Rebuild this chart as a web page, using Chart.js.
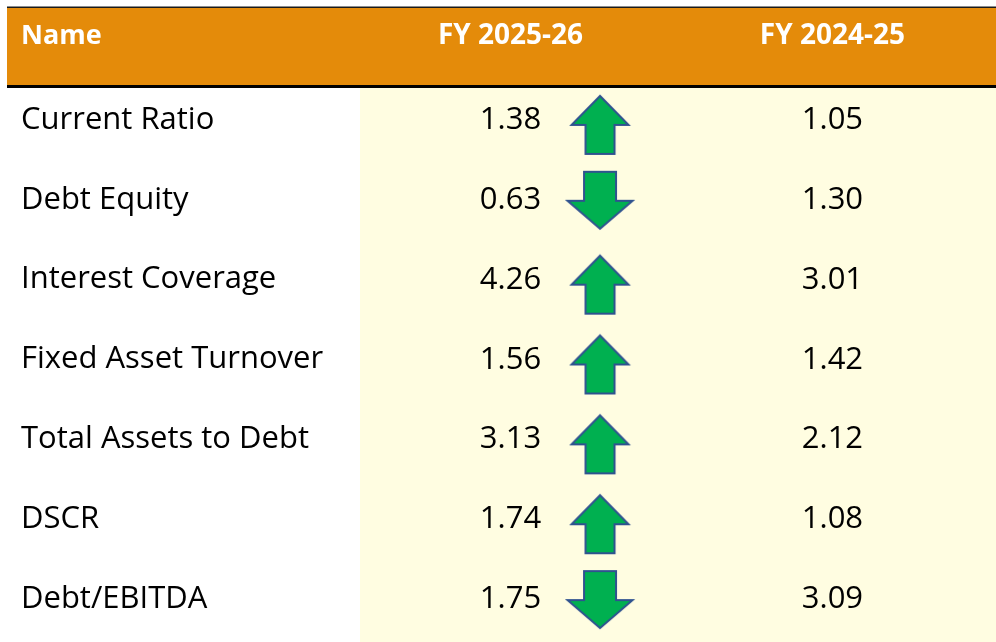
<!DOCTYPE html>
<html>
<head>
<meta charset="utf-8">
<title>Key Ratios</title>
<script src="https://cdn.jsdelivr.net/npm/chart.js@4.4.1/dist/chart.umd.min.js"></script>
<style>
  html, body { margin: 0; padding: 0; background: #fff; }
  #wrap { width: 996px; height: 642px; position: relative; }
</style>
</head>
<body>
<div id="wrap"><canvas id="ratioChart"></canvas></div>
<script>
// table data
const HEADERS = ['Name', 'FY 2025-26', 'FY 2024-25'];
const RATIO_NAMES = [
  'Current Ratio', 'Debt Equity', 'Interest Coverage', 'Fixed Asset Turnover',
  'Total Assets to Debt', 'DSCR', 'Debt/EBITDA'
];
const FY_2025_26 = ['1.38', '0.63', '4.26', '1.56', '3.13', '1.74', '1.75'];
const FY_2024_25 = ['1.05', '1.30', '3.01', '1.42', '2.12', '1.08', '3.09'];
const TREND = ['up', 'down', 'up', 'up', 'up', 'up', 'down'];

// column positions on the (hidden) x scale, 0..100 across the yellow area
const COL_CURRENT = 23.7;
const COL_ARROW = 37.8;
const COL_PRIOR = 74.4;

const ORANGE = '#E48B0A';
const CREAM = '#FFFDE1';
const GREEN = '#00B050';
const ARROW_EDGE = '#2F528F';
const BODY_FONT = '"Open Sans", "Noto Sans", sans-serif';

function makeArrow(dir) {
  const c = document.createElement('canvas');
  c.width = 72;
  c.height = 80;
  const g = c.getContext('2d');
  const cx = 36, cy = 40;
  g.beginPath();
  if (dir === 'up') {
    // tip -22, head base +7, bottom +36
    g.moveTo(cx, cy - 22);
    g.lineTo(cx + 28.5, cy + 7);
    g.lineTo(cx + 14.5, cy + 7);
    g.lineTo(cx + 14.5, cy + 36);
    g.lineTo(cx - 14.5, cy + 36);
    g.lineTo(cx - 14.5, cy + 7);
    g.lineTo(cx - 28.5, cy + 7);
  } else {
    g.moveTo(cx - 16, cy - 26);
    g.lineTo(cx + 16, cy - 26);
    g.lineTo(cx + 16, cy + 3);
    g.lineTo(cx + 32.5, cy + 3);
    g.lineTo(cx, cy + 31);
    g.lineTo(cx - 32.5, cy + 3);
    g.lineTo(cx - 16, cy + 3);
  }
  g.closePath();
  g.fillStyle = GREEN;
  g.fill();
  g.lineWidth = 2;
  g.strokeStyle = ARROW_EDGE;
  g.lineJoin = 'miter';
  g.stroke();
  return c;
}

const arrowImgs = { up: makeArrow('up'), down: makeArrow('down') };

// header bar, cream area and cell texts
const tablePlugin = {
  id: 'tablePlugin',
  beforeDraw(chart) {
    const { ctx, chartArea, width, height } = chart;
    ctx.save();
    ctx.fillStyle = '#fff';
    ctx.fillRect(0, 0, width, height);
    // cream background behind the value columns
    ctx.fillStyle = CREAM;
    ctx.fillRect(chartArea.left, 88, width - chartArea.left, height - 88);
    // header
    ctx.fillStyle = '#1a1a1a';
    ctx.fillRect(7, 6.5, width - 7, 1.5);
    ctx.fillStyle = ORANGE;
    ctx.fillRect(7, 8, width - 7, 77);
    ctx.fillStyle = '#000';
    ctx.fillRect(7, 85, width - 7, 3);

    const x = chart.scales.x;
    ctx.fillStyle = '#fff';
    ctx.textBaseline = 'alphabetic';
    ctx.textAlign = 'left';
    ctx.font = 'bold 27px ' + BODY_FONT;
    ctx.fillText(HEADERS[0], 21, 44);
    ctx.textAlign = 'center';
    ctx.font = 'bold 28px ' + BODY_FONT;
    ctx.fillText(HEADERS[1], x.getPixelForValue(COL_CURRENT), 44);
    ctx.fillText(HEADERS[2], x.getPixelForValue(COL_PRIOR), 44);
    ctx.restore();
  },
  afterDatasetsDraw(chart) {
    const { ctx } = chart;
    const x = chart.scales.x;
    const y = chart.scales.y;
    ctx.save();
    ctx.fillStyle = '#000';
    ctx.font = '31px ' + BODY_FONT;
    ctx.textAlign = 'center';
    ctx.textBaseline = 'alphabetic';
    RATIO_NAMES.forEach((n, i) => {
      const py = y.getPixelForValue(i) + 11;
      ctx.fillText(FY_2025_26[i], x.getPixelForValue(COL_CURRENT), py);
      ctx.fillText(FY_2024_25[i], x.getPixelForValue(COL_PRIOR), py);
    });
    ctx.restore();
  }
};

new Chart(document.getElementById('ratioChart'), {
  type: 'scatter',
  data: {
    datasets: [{
      label: 'Trend',
      data: RATIO_NAMES.map(n => ({ x: COL_ARROW, y: n })),
      pointStyle: TREND.map(t => arrowImgs[t]),
      pointRadius: 1,
      pointHoverRadius: 1,
      pointBorderWidth: 0
    }]
  },
  options: {
    responsive: true,
    maintainAspectRatio: false,
    animation: false,
    devicePixelRatio: 1,
    clip: false,
    layout: { padding: { left: 21, top: 78, bottom: 5, right: 0 } },
    plugins: {
      legend: { display: false },
      tooltip: { enabled: false }
    },
    events: [],
    scales: {
      x: {
        type: 'linear',
        min: 0,
        max: 100,
        display: false
      },
      y: {
        type: 'category',
        labels: RATIO_NAMES,
        offset: true,
        grid: { display: false },
        border: { display: false },
        afterFit: (scale) => {
          scale.width = 339;
          scale.paddingTop = 0;
          scale.paddingBottom = 0;
        },
        ticks: {
          autoSkip: false,
          crossAlign: 'far',
          padding: 0,
          labelOffset: 2,
          color: '#000',
          font: { family: BODY_FONT, size: 31 }
        }
      }
    }
  },
  plugins: [tablePlugin]
});
</script>
</body>
</html>
